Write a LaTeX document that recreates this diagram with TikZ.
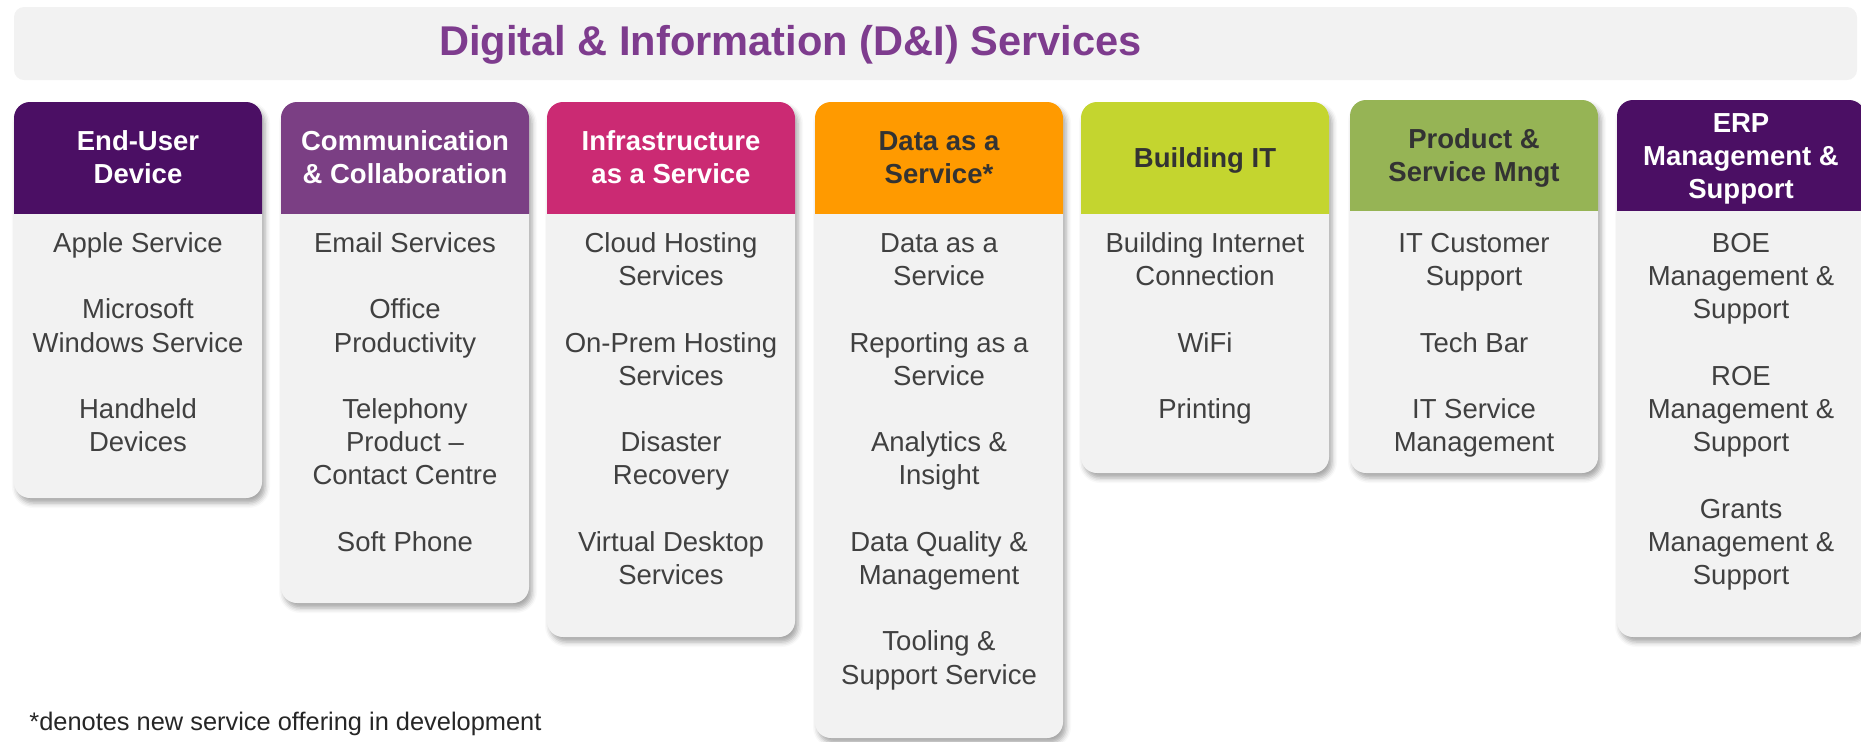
\documentclass[tikz,border=0pt]{standalone}
\usepackage{fontspec}
\setmainfont{Liberation Sans}
\usetikzlibrary{shadows.blur}
\definecolor{cA}{HTML}{4B0F64}
\definecolor{cB}{HTML}{7B3F84}
\definecolor{cC}{HTML}{CB2A73}
\definecolor{cD}{HTML}{FF9A00}
\definecolor{cE}{HTML}{C4D52F}
\definecolor{cF}{HTML}{96B455}
\definecolor{bodygray}{HTML}{F2F2F2}
\definecolor{bodytext}{HTML}{404040}
\definecolor{darktext}{HTML}{333333}
\definecolor{titlec}{HTML}{7E3C8E}
\definecolor{foot}{HTML}{262626}
\tikzset{
  cardbody/.style={fill=bodygray, rounded corners=8pt,
    blur shadow={shadow xshift=1.5pt, shadow yshift=-2.5pt, shadow blur radius=2.5pt, shadow opacity=35}},
  hdr/.style={anchor=north, inner sep=0pt, align=center,
    font=\fontsize{13.75}{16.5}\selectfont\bfseries},
  bodytxt/.style={anchor=north, inner sep=0pt, align=center,
    font=\fontsize{13.75}{16.6}\selectfont, text=bodytext},
}
\newcommand{\cardshape}[5]{%
  \path[cardbody] (#1,#2) rectangle (#1+248,#4);
  \begin{scope}
    \clip (#1-2,#2-2) rectangle (#1+250,#3);
    \fill[#5, rounded corners=8pt] (#1,#2) rectangle (#1+248,#4);
  \end{scope}
}
\newcommand{\gap}{\\[16.6pt]}
\newcommand{\fl}{\rule{0pt}{12pt}}
\begin{document}
\begin{tikzpicture}[x=0.5pt,y=-0.5pt]
\useasboundingbox (0,0) rectangle (1861,741);
% banner
\fill[bodygray, rounded corners=5pt] (14,7) rectangle (1857,80);
\node[anchor=base, inner sep=0pt, font=\fontsize{20.8}{25}\selectfont\bfseries, text=titlec] (title) at (790.5,55) {Digital \& Information (D\&I) Services};
% card backgrounds
\cardshape{14}{102}{213}{498}{cA}
\cardshape{281}{102}{213}{603}{cB}
\cardshape{547}{102}{213}{637}{cC}
\cardshape{815}{102}{213}{738}{cD}
\cardshape{1081}{102}{213}{473}{cE}
\cardshape{1350}{100}{210}{473}{cF}
\cardshape{1617}{100}{210}{637}{cA}
% headers
\node[hdr, text=white] (h1) at (138,126.5) {\fl End-User\\Device};
\node[hdr, text=white] (h2) at (405,126.5) {\fl Communication\\\& Collaboration};
\node[hdr, text=white] (h3) at (671,126.5) {\fl Infrastructure\\as a Service};
\node[hdr, text=darktext] (h4) at (939,126.5) {\fl Data as a\\Service*};
\node[hdr, text=darktext] (h5) at (1205,143) {\fl Building IT};
\node[hdr, text=darktext] (h6) at (1474,124.5) {\fl Product \&\\Service Mngt};
\node[hdr, text=white] (h7) at (1741,108) {\fl ERP\\Management \&\\Support};
% bodies
\node[bodytxt] (b1) at (138,228) {\fl Apple Service\gap Microsoft\\Windows Service\gap Handheld\\Devices};
\node[bodytxt] (b2) at (405,228) {\fl Email Services\gap Office\\Productivity\gap Telephony\\Product –\\Contact Centre\gap Soft Phone};
\node[bodytxt] (b3) at (671,228) {\fl Cloud Hosting\\Services\gap On-Prem Hosting\\Services\gap Disaster\\Recovery\gap Virtual Desktop\\Services};
\node[bodytxt] (b4) at (939,228) {\fl Data as a\\Service\gap Reporting as a\\Service\gap Analytics \&\\Insight\gap Data Quality \&\\Management\gap Tooling \&\\Support Service};
\node[bodytxt] (b5) at (1205,228) {\fl Building Internet\\Connection\gap WiFi\gap Printing};
\node[bodytxt] (b6) at (1474,228) {\fl IT Customer\\Support\gap Tech Bar\gap IT Service\\Management};
\node[bodytxt] (b7) at (1741,228) {\fl BOE\\Management \&\\Support\gap ROE\\Management \&\\Support\gap Grants\\Management \&\\Support};
% footnote
\node[anchor=base west, inner sep=0pt, font=\fontsize{12.7}{15}\selectfont, text=foot] (note) at (29,730) {*denotes new service offering in development};
\end{tikzpicture}
\end{document}
